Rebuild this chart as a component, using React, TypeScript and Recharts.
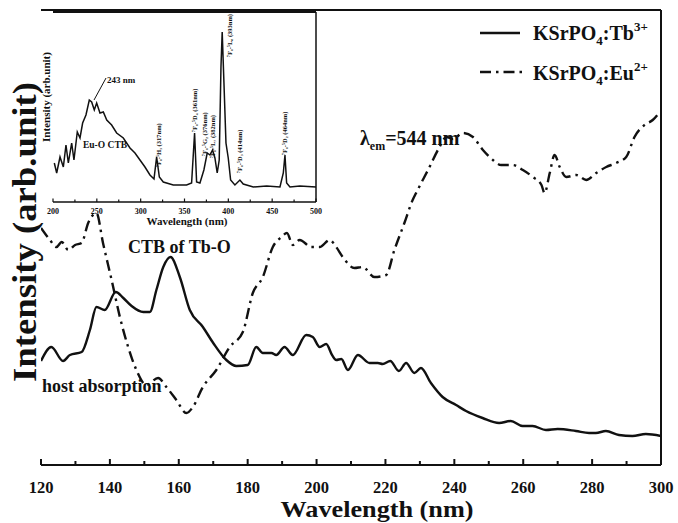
import React from "react";
import { LineChart, Line, XAxis, YAxis, ReferenceLine } from "recharts";

// main spectrum: Tb3+ (solid)
const tbNm = [120, 123, 126.4, 128.4, 131.8, 134.2, 136.1, 138.5, 141.7, 143.9, 146.3, 149.7, 151.6, 153.5, 155.5, 157.6, 160.3, 163.2, 167, 170, 173.8, 176.7, 180, 182.5, 184.4, 186.9, 188.3, 190.7, 193.1, 197, 198.9, 200.9, 202.8, 204.5, 205.7, 207.2, 209.1, 212, 215.4, 217.8, 219.2, 221.4, 223.9, 226, 228.4, 230.3, 233.2, 236.6, 240.5, 243.4, 248.2, 253, 256.4, 259.8, 262.7, 266.6, 270, 275.3, 279.1, 281.1, 284, 287.8, 291.7, 295.6, 300];
const tbVal = [104, 118, 104, 110, 113, 135, 158, 155, 173, 167, 159, 153, 153, 175, 198, 208, 188, 155, 138, 122, 105, 99, 100, 118, 112, 112, 110, 118, 110, 130, 128, 118, 121, 110, 105, 106, 95, 110, 102, 102, 101, 104, 94, 102, 92, 97, 82, 68, 60, 54, 47, 42, 44, 39, 39, 35, 36, 34, 32, 32, 34, 30, 29, 31, 29];

// main spectrum: Eu2+ (dash-dot)
const euNm = [120, 122.6, 124.5, 126, 127.9, 129.9, 131.8, 133.7, 136.1, 138, 140.5, 142.9, 145.3, 147.7, 150.6, 154, 156.4, 159.3, 162.2, 164.1, 167, 170.9, 174.8, 178.6, 181.5, 184.4, 187.3, 189.8, 191.4, 193.1, 195.1, 198.5, 200.9, 203.8, 205.7, 207.6, 211, 213.4, 216.8, 220.2, 222.6, 225.5, 227.9, 228.9, 232.8, 235.7, 237.7, 239.6, 242.5, 245.4, 248.3, 251.2, 253.6, 257, 259.9, 262.8, 265.3, 266.2, 267.7, 269.1, 270.6, 272.5, 275.4, 278.3, 281.2, 284.1, 287, 289.9, 292.3, 295.2, 297.6, 299.4];
const euVal = [237, 225, 218, 223, 215, 220, 222, 242, 252, 222, 185, 148, 118, 95, 80, 87, 78, 65, 52, 58, 78, 95, 118, 133, 172, 188, 218, 228, 232, 220, 225, 218, 218, 225, 218, 208, 197, 198, 188, 190, 215, 242, 265, 272, 298, 318, 328, 326, 332, 328, 315, 305, 300, 300, 295, 288, 280, 272, 292, 310, 298, 288, 290, 285, 292, 298, 302, 308, 328, 340, 345, 352];

// inset excitation spectrum
const inNm = [201.5, 204.2, 208, 211.8, 214.8, 217.5, 221.3, 223.9, 227.7, 230.8, 233.8, 237.6, 241.4, 244.1, 247.1, 249.8, 253.6, 257.4, 261.3, 266.9, 272.6, 280.2, 287.8, 293.5, 299.2, 304.9, 310.6, 315.2, 318.2, 321.3, 325.8, 337.2, 352.4, 358.1, 361.5, 363.8, 367.6, 372.1, 375.9, 379, 382, 384.7, 387.3, 389.6, 391.6, 393, 395, 397.3, 399.9, 402.6, 407.5, 413.2, 417, 428.5, 443.7, 458.9, 462.7, 464.6, 466.5, 470.3, 481.6, 500];
const inVal = [39, 29, 45, 35, 57, 39, 59, 42, 70, 64, 79, 87, 102, 100, 92, 99, 89, 90, 82, 77, 69, 64, 54, 49, 42, 35, 27, 23, 45, 25, 20, 17, 17, 19, 69, 20, 19, 32, 49, 47, 52, 44, 29, 42, 135, 170, 119, 59, 44, 22, 17, 22, 18, 15, 16, 15, 29, 47, 19, 15, 16, 15];

const mainTicks = [120, 130, 140, 150, 160, 170, 180, 190, 200, 210, 220, 230, 240, 250, 260, 270, 280, 290, 300];
const insetTicks = [200, 225, 250, 275, 300, 325, 350, 375, 400, 425, 450, 475, 500];

const peakLabels = [
  { text: "⁷F₀-⁵H₃ (317nm)", x: 161, y: 167 },
  { text: "⁷F₀-⁵D₄ (361nm)", x: 197, y: 132 },
  { text: "⁷F₀-⁵G₂ (376nm)", x: 207, y: 156 },
  { text: "⁷F₀-⁵L₇ (382nm)", x: 215, y: 158 },
  { text: "⁷F₀-⁵L₆ (393nm)", x: 232, y: 57 },
  { text: "⁷F₀-⁵D₃ (414nm)", x: 242, y: 173 },
  { text: "⁷F₀-⁵D₂ (464nm)", x: 287, y: 155 },
];

const tbData = tbNm.map((nm, i) => ({ nm, v: tbVal[i] }));
const euData = euNm.map((nm, i) => ({ nm, v: euVal[i] }));
const inData = inNm.map((nm, i) => ({ nm, v: inVal[i] }));

const FONT = '"Liberation Serif", "Times New Roman", serif';

function MainTick({ x, y, payload }: any) {
  const major = payload.value % 20 === 0;
  return (
    <g>
      <line x1={x} x2={x} y1={y} y2={y - (major ? 6 : 4)} stroke="#111" strokeWidth={2} />
      {major && (
        <text x={x} y={y + 28} textAnchor="middle" fontFamily={FONT} fontWeight="bold" fontSize={16.5} fill="#111">
          {payload.value}
        </text>
      )}
    </g>
  );
}

function InsetTick({ x, y, payload }: any) {
  const major = payload.value % 50 === 0;
  return (
    <g>
      <line x1={x} x2={x} y1={y} y2={y - (major ? 3.5 : 2.5)} stroke="#111" strokeWidth={1.2} />
      {major && (
        <text x={x} y={y + 12} textAnchor="middle" fontFamily={FONT} fontWeight="bold" fontSize={8} fill="#111">
          {payload.value}
        </text>
      )}
    </g>
  );
}

export default function App() {
  const bold = { fontFamily: FONT, fontWeight: "bold" as const, fill: "#111" };
  return (
    <div style={{ position: "absolute", left: 0, top: 0, width: 678, height: 523, background: "#fff" }}>
      <div style={{ position: "absolute", left: 0, top: 0 }}>
        <LineChart width={678} height={523} margin={{ top: 10, right: 17, bottom: 0, left: 41 }}>
          <XAxis
            dataKey="nm"
            type="number"
            domain={[120, 300]}
            ticks={mainTicks}
            interval={0}
            height={58}
            tickSize={0}
            tickMargin={0}
            tickLine={false}
            axisLine={{ stroke: "#111", strokeWidth: 2 }}
            tick={<MainTick />}
            allowDataOverflow
          />
          <YAxis type="number" domain={[0, 455]} width={0} tick={false} tickLine={false} axisLine={{ stroke: "#111", strokeWidth: 2 }} allowDataOverflow />
          <ReferenceLine x={300} stroke="#111" strokeWidth={2} />
          <ReferenceLine y={455} stroke="#111" strokeWidth={2} />
          <Line data={tbData} dataKey="v" type="monotone" stroke="#111" strokeWidth={2.4} dot={false} isAnimationActive={false} />
          <Line data={euData} dataKey="v" type="monotone" stroke="#111" strokeWidth={2.4} strokeDasharray="11 5 2.5 5" dot={false} isAnimationActive={false} />
        </LineChart>
      </div>

      <div style={{ position: "absolute", left: 0, top: 0 }}>
        <LineChart width={330} height={232} margin={{ top: 12, right: 14, bottom: 0, left: 53 }}>
          <XAxis
            dataKey="nm"
            type="number"
            domain={[200, 500]}
            ticks={insetTicks}
            interval={0}
            height={30}
            tickSize={0}
            tickMargin={0}
            tickLine={false}
            axisLine={{ stroke: "#111", strokeWidth: 1.5 }}
            tick={<InsetTick />}
          />
          <YAxis type="number" domain={[0, 190]} width={0} tick={false} tickLine={false} axisLine={{ stroke: "#111", strokeWidth: 1.5 }} />
          <ReferenceLine x={500} stroke="#111" strokeWidth={1.5} />
          <ReferenceLine y={190} stroke="#111" strokeWidth={2} />
          <ReferenceLine segment={[{ x: 246.8, y: 102 }, { x: 260.5, y: 124 }]} stroke="#111" strokeWidth={1} />
          <Line data={inData} dataKey="v" type="linear" stroke="#111" strokeWidth={1.5} dot={false} isAnimationActive={false} />
        </LineChart>
      </div>

      <svg width={678} height={523} style={{ position: "absolute", left: 0, top: 0, pointerEvents: "none" }}>
        {/* main axis titles */}
        <text
          transform="translate(36,232) rotate(-90)"
          textAnchor="middle"
          fontSize={34}
          textLength={300}
          lengthAdjust="spacingAndGlyphs"
          {...bold}
        >
          Intensity (arb.unit)
        </text>
        <text x={377} y={517} textAnchor="middle" fontSize={24} textLength={193} lengthAdjust="spacingAndGlyphs" {...bold}>
          Wavelength (nm)
        </text>

        {/* legend */}
        <line x1={480} x2={520} y1={33} y2={33} stroke="#111" strokeWidth={2.4} />
        <text x={533} y={40} fontSize={20} {...bold}>
          KSrPO<tspan fontSize={13} dy={5}>4</tspan>
          <tspan dy={-5}>:Tb</tspan>
          <tspan fontSize={13} dy={-9}>3+</tspan>
        </text>
        <line x1={480} x2={522} y1={72} y2={72} stroke="#111" strokeWidth={2.4} strokeDasharray="11 5 2.5 5" />
        <text x={533} y={80} fontSize={20} {...bold}>
          KSrPO<tspan fontSize={13} dy={5}>4</tspan>
          <tspan dy={-5}>:Eu</tspan>
          <tspan fontSize={13} dy={-9}>2+</tspan>
        </text>

        {/* annotations */}
        <text x={360} y={145} fontSize={20} {...bold}>
          λ<tspan fontSize={12} dy={5}>em</tspan>
          <tspan dy={-5}>=544 nm</tspan>
        </text>
        <text x={128} y={253} fontSize={18} {...bold}>CTB of Tb-O</text>
        <text x={42} y={392} fontSize={18} {...bold}>host absorption</text>

        {/* inset titles and labels */}
        <text transform="translate(50,97) rotate(-90)" textAnchor="middle" fontSize={11} {...bold}>
          Intensity (arb.unit)
        </text>
        <text x={187} y={225} textAnchor="middle" fontSize={11} {...bold}>Wavelength (nm)</text>
        <text x={107} y={83} fontSize={9} {...bold}>243 nm</text>
        <text x={83} y={148} fontSize={9.5} {...bold}>Eu-O CTB</text>
        {peakLabels.map((p) => (
          <text key={p.text} transform={`translate(${p.x},${p.y}) rotate(-90)`} fontSize={6.5} {...bold}>
            {p.text}
          </text>
        ))}
      </svg>
    </div>
  );
}
